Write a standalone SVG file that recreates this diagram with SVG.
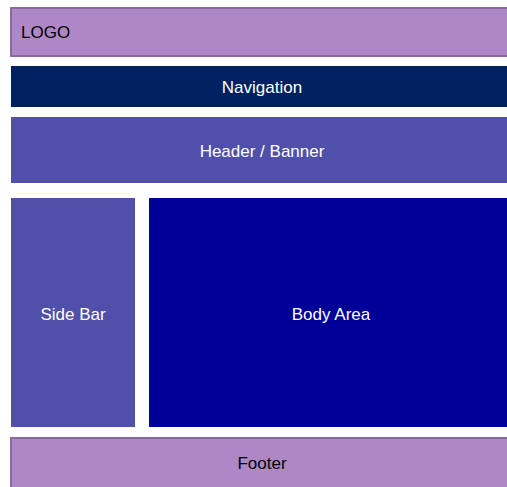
<svg xmlns="http://www.w3.org/2000/svg" width="507" height="487" viewBox="0 0 507 487">
<style>
.t{font-family:"Liberation Sans",Arial,sans-serif;font-size:17px;fill:#fff;text-anchor:middle;dominant-baseline:central}
.tl{font-family:"Liberation Sans",Arial,sans-serif;font-size:17px;fill:#000;dominant-baseline:central}
.purple{fill:#ae87c6;stroke:#8a6a9c;stroke-width:2}
</style>
<rect width="507" height="487" fill="#fff"/>
<g id="logo"><rect class="purple" x="11" y="8" width="500" height="48"/><text class="tl" x="21" y="32">LOGO</text></g>
<g id="navigation"><rect x="11" y="66" width="496" height="41" fill="#00205f"/><text class="t" x="262" y="87">Navigation</text></g>
<g id="header"><rect x="11" y="117" width="496" height="66" fill="#5050aa"/><text class="t" x="262" y="151">Header / Banner</text></g>
<g id="sidebar"><rect x="11" y="198" width="124" height="229" fill="#5050aa"/><text class="t" x="73" y="314">Side Bar</text></g>
<g id="body"><rect x="149" y="198" width="358" height="229" fill="#000099"/><text class="t" x="331" y="314">Body Area</text></g>
<g id="footer"><rect class="purple" x="11" y="438" width="500" height="60"/><text class="t" x="262" y="463" style="fill:#000">Footer</text></g>
<g id="connectors"></g>
</svg>
